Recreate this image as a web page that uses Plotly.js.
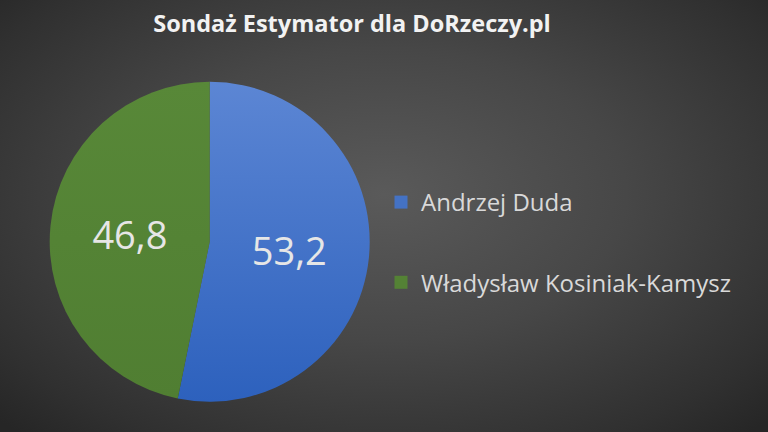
<!DOCTYPE html>
<html>
<head>
<meta charset="utf-8">
<script src="https://cdn.plot.ly/plotly-3.0.1.min.js"></script>
<style>
html,body{margin:0;padding:0;width:768px;height:432px;overflow:hidden;}
body{background: radial-gradient(ellipse 70% 75% at 50% 45%, #5a5a5a 0%, #474747 45%, #303030 85%, #262626 100%);}
#chart{width:768px;height:432px;}
</style>
</head>
<body>
<div id="chart"></div>
<script>
const titleText = "Sondaż Estymator dla DoRzeczy.pl";
const categories = ["Andrzej Duda", "Władysław Kosiniak-Kamysz"];
const values = [53.2, 46.8];
const colors = ["#4472c4", "#548235"];

const pie = {
  type: "pie",
  labels: categories,
  values: values,
  sort: false,
  direction: "clockwise",
  rotation: 0,
  marker: {colors: colors, line: {width: 0}},
  texttemplate: "%{value}",
  textposition: "inside",
  insidetextorientation: "horizontal",
  insidetextfont: {family: "Open Sans, sans-serif", size: 38, color: "#e6e6e6"},
  showlegend: false,
  hoverinfo: "label+value",
  domain: {x: [49.7/768, 369.7/768], y: [1 - 401.7/432, 1 - 81.7/432]}
};

const legendTraces = categories.map((c, i) => ({
  type: "scatter",
  mode: "markers",
  x: [null], y: [null],
  name: c,
  legendgroup: "g" + i,
  marker: {symbol: "square", size: 13, color: colors[i]},
  showlegend: true,
  hoverinfo: "skip"
}));

const layout = {
  width: 768, height: 432,
  margin: {l: 0, r: 0, t: 0, b: 0},
  paper_bgcolor: "rgba(0,0,0,0)",
  plot_bgcolor: "rgba(0,0,0,0)",
  separators: ",.",
  title: {
    text: "<b>" + titleText + "</b>",
    font: {family: "Open Sans, sans-serif", size: 23.5, color: "#f2f2f2"},
    x: 352/768, xanchor: "center", xref: "paper",
    y: 1 - 24/432, yanchor: "middle", yref: "container"
  },
  xaxis: {visible: false},
  yaxis: {visible: false},
  legend: {
    x: 381/768, xanchor: "left",
    y: 1 - 180/432, yanchor: "top",
    font: {family: "Open Sans, sans-serif", size: 24, color: "#d9d9d9"},
    bgcolor: "rgba(0,0,0,0)",
    tracegroupgap: 46,
    itemclick: false
  }
};

Plotly.newPlot("chart", [pie].concat(legendTraces), layout, {displayModeBar: false, staticPlot: true}).then(function(gd){
  const svg = gd.querySelector("svg.main-svg");
  const ns = "http://www.w3.org/2000/svg";
  const defs = document.createElementNS(ns, "defs");
  defs.innerHTML = '<linearGradient id="gBlue" x1="0" y1="0" x2="0" y2="1"><stop offset="0" stop-color="#5c86d4"/><stop offset="1" stop-color="#2d61bd"/></linearGradient>' +
                   '<linearGradient id="gGreen" x1="0" y1="0" x2="0" y2="1"><stop offset="0" stop-color="#588838"/><stop offset="1" stop-color="#507e32"/></linearGradient>';
  svg.insertBefore(defs, svg.firstChild);
  const slices = gd.querySelectorAll("g.slice path.surface");
  if (slices[0]) slices[0].style.fill = "url(#gBlue)";
  if (slices[1]) slices[1].style.fill = "url(#gGreen)";
});
</script>
</body>
</html>
